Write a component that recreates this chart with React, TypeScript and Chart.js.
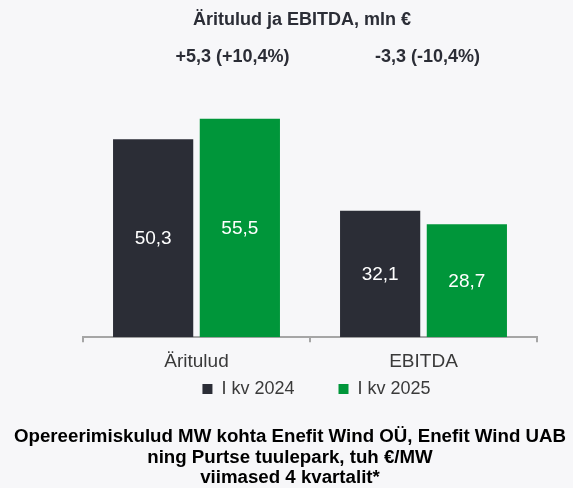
import React, { useEffect, useRef } from 'react';
import { Chart, registerables } from 'chart.js';

Chart.register(...registerables);

const categories = ['Äritulud', 'EBITDA'];
const series2024 = [50.3, 32.1];
const series2025 = [55.5, 28.7];
const seriesLabels = ['I kv 2024', 'I kv 2025'];
const changeLabels = ['+5,3 (+10,4%)', '-3,3 (-10,4%)'];
const chartTitle = 'Äritulud ja EBITDA, mln €';
const footerLines = [
  'Opereerimiskulud MW kohta Enefit Wind OÜ, Enefit Wind UAB',
  'ning Purtse tuulepark, tuh €/MW',
  'viimased 4 kvartalit*',
];

const FONT = '"Liberation Sans", Arial, Helvetica, sans-serif';
const BG = '#f7f7f9';
const DARK = '#2b2d36';
const GREEN = '#00963a';
const TEXT = '#2b2d36';

const fmt = (v: number) => v.toFixed(1).replace('.', ',');

const textPlugin = {
  id: 'customTexts',
  beforeDraw(chart: any) {
    const { ctx, width, height } = chart;
    ctx.save();
    ctx.fillStyle = BG;
    ctx.fillRect(0, 0, width, height);
    ctx.restore();
  },
  afterDatasetsDraw(chart: any) {
    const { ctx } = chart;
    ctx.save();
    ctx.fillStyle = '#ffffff';
    ctx.font = `19px ${FONT}`;
    ctx.textAlign = 'center';
    ctx.textBaseline = 'middle';
    chart.data.datasets.forEach((ds: any, di: number) => {
      const meta = chart.getDatasetMeta(di);
      meta.data.forEach((el: any, i: number) => {
        const y = (el.y + el.base) / 2 + 1;
        ctx.fillText(fmt(ds.data[i]), el.x, y);
      });
    });
    ctx.restore();
  },
  afterDraw(chart: any) {
    const { ctx } = chart;
    const xs = chart.scales.x;
    ctx.save();
    ctx.textAlign = 'center';
    ctx.textBaseline = 'middle';
    ctx.fillStyle = TEXT;
    ctx.font = `bold 18px ${FONT}`;
    ctx.fillText(chartTitle, 302, 20);
    const offsets = [36, 4];
    changeLabels.forEach((t, i) => {
      ctx.fillText(t, xs.getPixelForValue(i) + offsets[i], 57);
    });
    ctx.fillStyle = '#000000';
    ctx.font = `bold 18.7px ${FONT}`;
    footerLines.forEach((t, i) => {
      ctx.fillText(t, 290, 437 + i * 20.5);
    });
    ctx.restore();
  },
};

export default function App() {
  const ref = useRef<HTMLCanvasElement | null>(null);
  useEffect(() => {
    document.body.style.margin = '0';
    document.body.style.background = BG;
    if (!ref.current) return;
    Chart.defaults.font.family = FONT;
    const chart = new Chart(ref.current, {
      type: 'bar',
      data: {
        labels: categories,
        datasets: [
          {
            label: seriesLabels[0],
            data: series2024,
            backgroundColor: DARK,
            borderWidth: 0,
            categoryPercentage: 0.764,
            barPercentage: 0.925,
          },
          {
            label: seriesLabels[1],
            data: series2025,
            backgroundColor: GREEN,
            borderWidth: 0,
            categoryPercentage: 0.764,
            barPercentage: 0.925,
          },
        ],
      },
      options: {
        responsive: false,
        animation: false,
        devicePixelRatio: 1,
        layout: { padding: { left: 83, right: 23, top: 101, bottom: 80 } },
        scales: {
          x: {
            grid: {
              drawOnChartArea: false,
              drawTicks: true,
              tickLength: 5,
              color: '#a6a6a6',
              lineWidth: 2,
            },
            border: { display: true, color: '#a6a6a6', width: 2 },
            ticks: { font: { size: 19 }, color: '#3a3a3a', padding: 8 },
          },
          y: { display: false, min: 0, max: 60 },
          spacer: {
            type: 'linear',
            position: 'right',
            display: true,
            grid: { display: false, drawTicks: false },
            border: { display: false },
            ticks: { display: false },
            afterFit: (s: any) => {
              s.width = 13;
            },
          },
        },
        plugins: {
          title: { display: false },
          tooltip: { enabled: false },
          legend: {
            display: true,
            position: 'bottom',
            labels: {
              boxWidth: 10,
              boxHeight: 10,
              padding: -1,
              color: '#3a3a3a',
              font: { size: 18 },
              generateLabels: (c: any) => {
                const items = (Chart.defaults.plugins.legend.labels as any).generateLabels(c);
                if (items[0]) items[0].text = items[0].text + '         ';
                return items;
              },
            },
          },
        },
      } as any,
      plugins: [textPlugin],
    });
    return () => chart.destroy();
  }, []);
  return <canvas ref={ref} width={573} height={488} style={{ display: 'block', width: 573, height: 488 }} />;
}
